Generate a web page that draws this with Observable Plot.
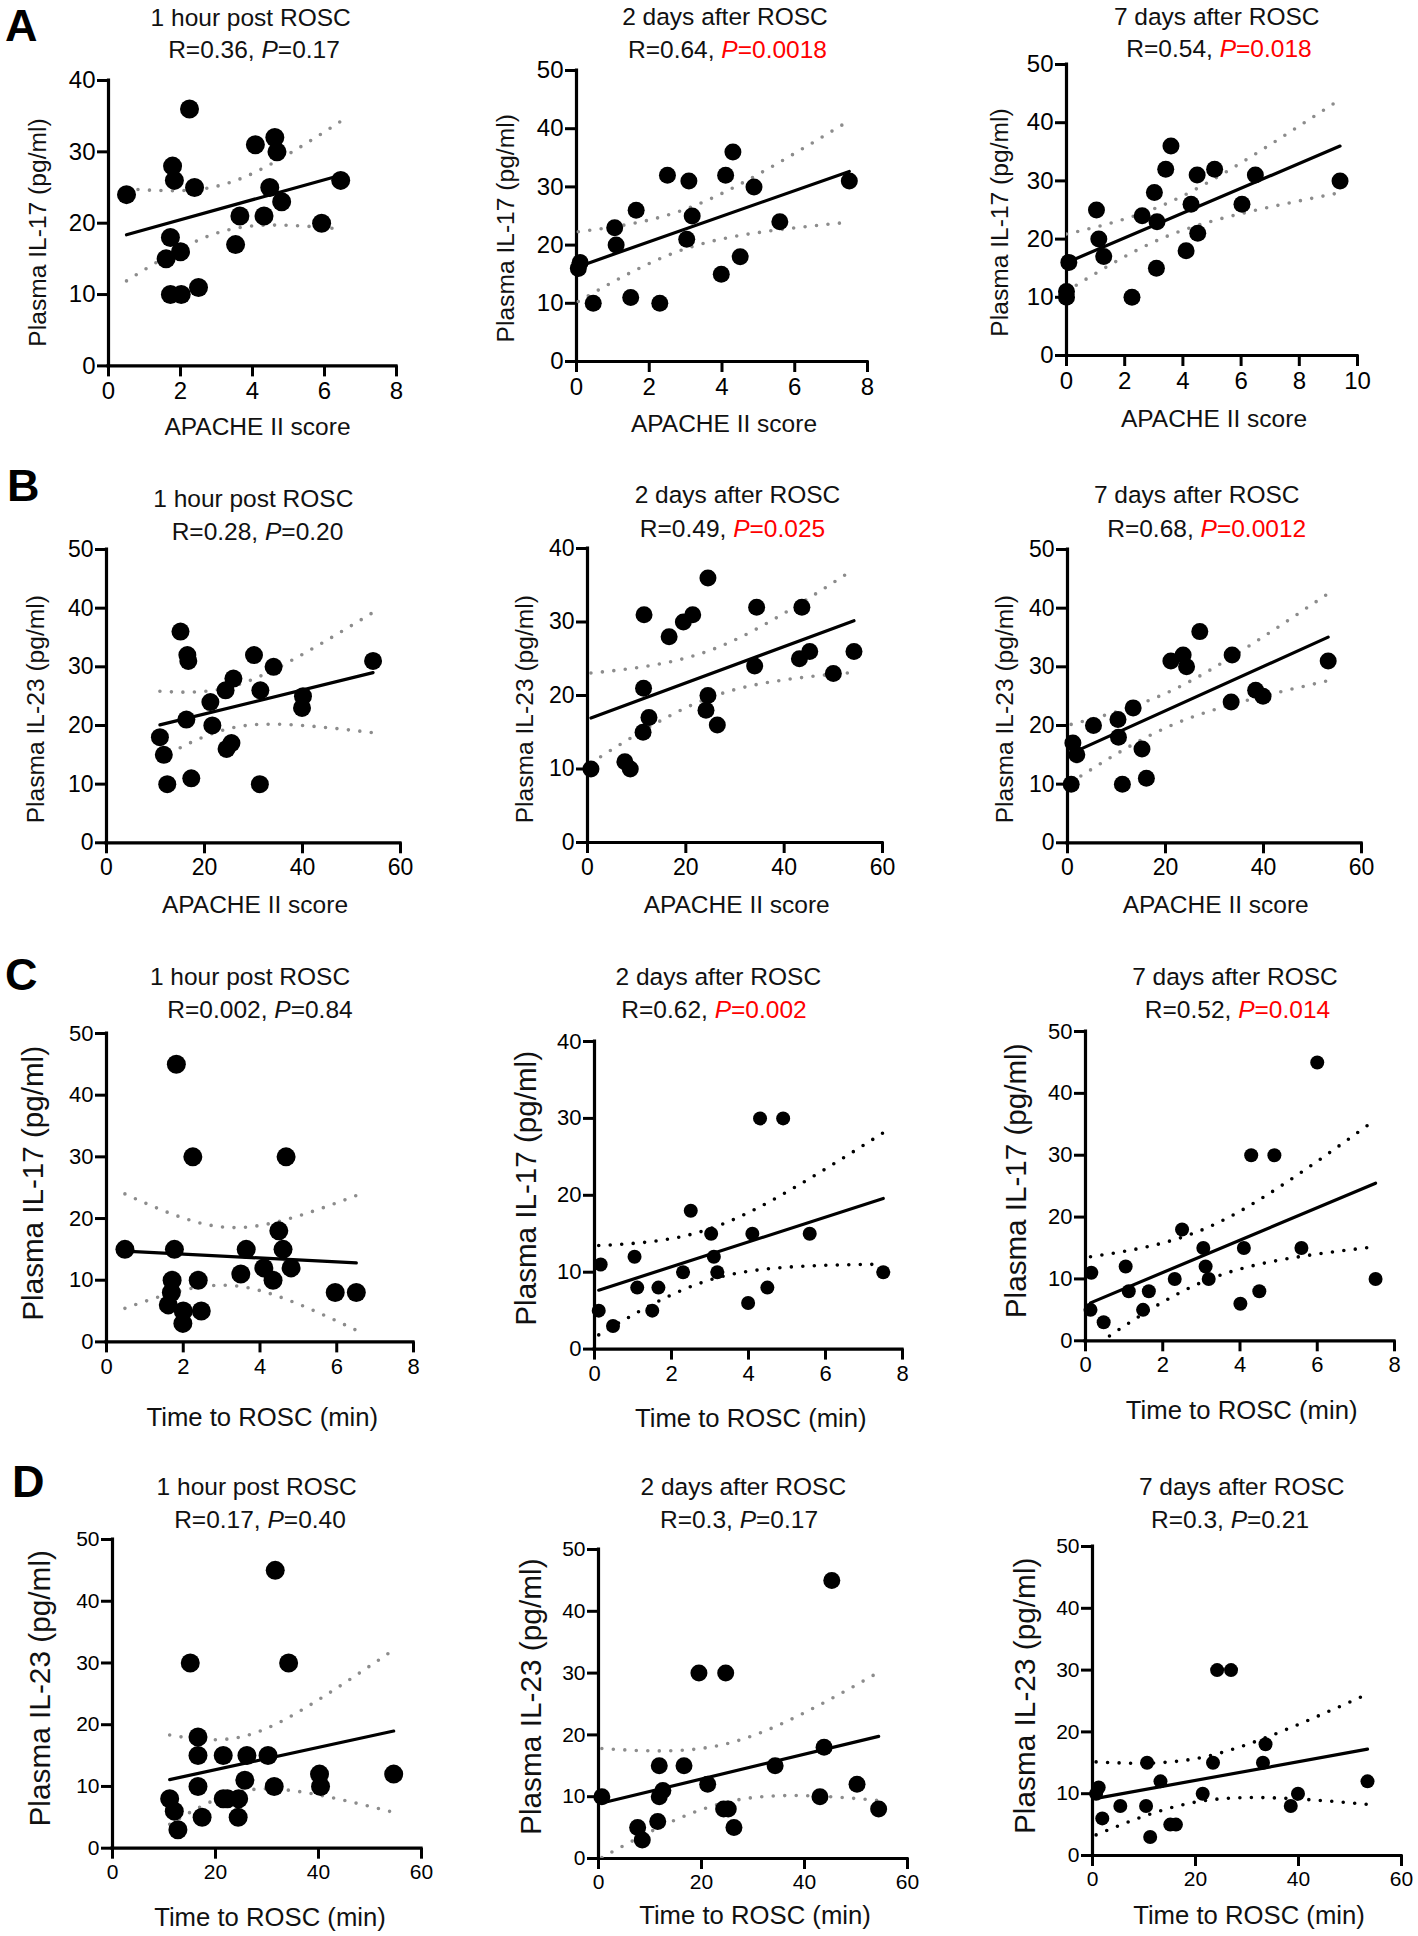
<!DOCTYPE html>
<html>
<head>
<meta charset="utf-8">
<script src="https://cdn.jsdelivr.net/npm/d3@7"></script>
<script src="https://cdn.jsdelivr.net/npm/@observablehq/plot@0.6"></script>
<style>
  body { margin: 0; background: #fff; }
  #page { position: relative; width: 1418px; height: 1936px; overflow: hidden; background: #fff;
          font-family: "Liberation Sans", Arial, Helvetica, sans-serif; }
</style>
</head>
<body>
<div id="page"></div>
<script>
// ---------------- DATA ----------------
// Row A: APACHE II score vs plasma IL-17
const A1_x = [0.5, 2.25, 1.78, 1.83, 2.39, 1.72, 1.6, 2.0, 1.72, 2.02, 2.5, 3.53, 3.65, 4.08, 4.62, 4.68, 4.48, 4.32, 4.81, 5.92, 6.45];
const A1_y = [24, 36, 28, 26, 25, 18, 15, 16, 10, 10, 11, 17, 21, 31, 32, 30, 25, 21, 23, 20, 26];
const A2_x = [0.1, 0.05, 0.46, 1.05, 1.09, 1.64, 1.49, 2.29, 2.5, 3.09, 3.18, 3.03, 4.1, 4.3, 3.98, 4.5, 4.88, 5.59, 7.5];
const A2_y = [17, 16, 10, 23, 20, 26, 11, 10, 32, 31, 25, 21, 32, 36, 15, 18, 30, 24, 31];
const A3_x = [0.08, 0, 0, 1.03, 1.11, 1.28, 2.25, 2.6, 3.02, 3.11, 3.09, 3.41, 3.59, 4.28, 4.49, 4.51, 4.11, 5.09, 6.03, 6.49, 9.4];
const A3_y = [16, 11, 10, 25, 20, 17, 10, 24, 28, 23, 15, 32, 36, 26, 31, 21, 18, 32, 26, 31, 30];
// Row B: APACHE II score vs plasma IL-23
const B1_x = [10.9, 11.7, 12.4, 15.1, 16.5, 16.7, 16.3, 17.3, 21.2, 21.6, 24.3, 25.9, 24.5, 25.5, 30.1, 31.4, 34.1, 31.3, 40.1, 39.9, 54.4];
const B1_y = [18, 15, 10, 36, 32, 31, 21, 11, 24, 20, 26, 28, 16, 17, 32, 26, 30, 10, 25, 23, 31];
const B2_x = [0.7, 7.6, 8.7, 11.5, 11.4, 11.3, 12.5, 16.6, 19.5, 21.4, 24.5, 24.5, 24.1, 26.4, 34.4, 34.0, 43.6, 43.1, 45.2, 50.0, 54.2];
const B2_y = [10, 11, 10, 31, 21, 15, 17, 28, 30, 31, 36, 20, 18, 16, 32, 24, 32, 25, 26, 23, 26];
const B3_x = [0.75, 1.1, 1.9, 5.3, 10.3, 10.4, 11.2, 13.4, 15.2, 16.1, 21.1, 23.6, 24.3, 27.0, 33.6, 33.4, 38.4, 39.9, 53.2];
const B3_y = [10, 17, 15, 20, 21, 18, 10, 23, 16, 11, 31, 32, 30, 36, 32, 24, 26, 25, 31];
// Row C: time to ROSC vs plasma IL-17
const C1_x = [0.48, 1.82, 1.77, 1.71, 1.69, 1.61, 2.0, 1.99, 2.25, 2.39, 2.47, 3.5, 3.64, 4.1, 4.34, 4.49, 4.6, 4.68, 4.81, 5.96, 6.51];
const C1_y = [15, 45, 15, 10, 8, 6, 5, 3, 30, 10, 5, 11, 15, 12, 10, 18, 15, 30, 12, 8, 8];
const C2_x = [0.16, 0.11, 0.48, 1.04, 1.11, 1.5, 1.66, 2.3, 2.5, 3.03, 3.1, 3.19, 4.1, 3.99, 4.3, 4.9, 4.49, 5.59, 7.5];
const C2_y = [11, 5, 3, 12, 8, 5, 8, 10, 18, 15, 12, 10, 15, 6, 30, 30, 8, 15, 10];
const C3_x = [0.15, 0.13, 0.47, 1.04, 1.12, 1.49, 1.64, 2.31, 2.5, 3.05, 3.11, 3.19, 4.1, 4.01, 4.29, 4.89, 4.5, 5.59, 6.0, 7.51];
const C3_y = [11, 5, 3, 12, 8, 5, 8, 10, 18, 15, 12, 10, 15, 6, 30, 30, 8, 15, 45, 10];
// Row D: time to ROSC vs plasma IL-23
const D1_x = [11.1, 12.0, 12.7, 15.1, 16.6, 16.6, 16.6, 17.4, 21.5, 21.5, 22.3, 24.5, 24.4, 25.7, 26.1, 30.2, 31.4, 31.6, 34.2, 40.2, 40.4, 54.6];
const D1_y = [8, 6, 3, 30, 18, 15, 10, 5, 15, 8, 8, 8, 5, 11, 15, 15, 10, 45, 30, 12, 10, 12];
const D2_x = [0.65, 7.6, 8.5, 11.8, 11.5, 11.8, 12.5, 16.6, 19.5, 24.7, 21.2, 24.3, 25.2, 26.3, 34.3, 43.8, 43.0, 45.3, 50.2, 54.4];
const D2_y = [10, 5, 3, 15, 6, 10, 11, 15, 30, 30, 12, 8, 8, 5, 15, 18, 10, 45, 12, 8];
const D3_x = [1.2, 0.7, 1.9, 5.4, 10.6, 10.4, 11.2, 13.2, 15.1, 16.2, 21.4, 23.4, 24.2, 26.9, 33.1, 33.6, 38.5, 39.9, 53.4];
const D3_y = [11, 10, 6, 8, 15, 8, 3, 12, 5, 5, 10, 15, 30, 30, 15, 18, 8, 10, 12];

// Tick values
const ticks0to8 = [0, 2, 4, 6, 8];
const ticks0to10 = [0, 2, 4, 6, 8, 10];
const ticks0to60 = [0, 20, 40, 60];
const ticks0to40 = [0, 10, 20, 30, 40];
const ticks0to50 = [0, 10, 20, 30, 40, 50];

// Text
const panelLetters = ["A", "B", "C", "D"];
const timepoints = ["1 hour post ROSC", "2 days after ROSC", "7 days after ROSC"];
const rLabels = ["R=0.36", "R=0.64", "R=0.54", "R=0.28", "R=0.49", "R=0.68", "R=0.002", "R=0.62", "R=0.52", "R=0.17", "R=0.3", "R=0.3"];
const pLabels = ["=0.17", "=0.0018", "=0.018", "=0.20", "=0.025", "=0.0012", "=0.84", "=0.002", "=0.014", "=0.40", "=0.17", "=0.21"];
const pSignificant = [false, true, true, false, true, true, false, true, true, false, false, false];
const xLabels = ["APACHE II score", "APACHE II score", "Time to ROSC (min)", "Time to ROSC (min)"];
const yLabels = ["Plasma IL-17 (pg/ml)", "Plasma IL-23 (pg/ml)", "Plasma IL-17 (pg/ml)", "Plasma IL-23 (pg/ml)"];

// ---------------- LAYOUT / STYLE ----------------
const FONT = '"Liberation Sans", Arial, Helvetica, sans-serif';
const GRAY = "#8c8c8c";
const panels = [
  {x: A1_x, y: A1_y, xd: [0, 8],  xt: ticks0to8,  yd: [0, 40], yt: ticks0to40, frame: [108, 396, 80.3, 365.7],  r: 9.5, tick: 24, ci: GRAY,  t: [250.7, 25.7, 254, 58.3],     xl: [257.5, 435, 24.5],   yl: [46, 232.5, 24.6]},
  {x: A2_x, y: A2_y, xd: [0, 8],  xt: ticks0to8,  yd: [0, 50], yt: ticks0to50, frame: [576, 867, 70, 361],      r: 8.5, tick: 24, ci: GRAY,  t: [725, 25, 727.5, 58.3],       xl: [724, 431.7, 24.5],   yl: [514.3, 228.3, 24.6]},
  {x: A3_x, y: A3_y, xd: [0, 10], xt: ticks0to10, yd: [0, 50], yt: ticks0to50, frame: [1066, 1357, 64.3, 355.3], r: 8.5, tick: 24, ci: GRAY,  t: [1216.7, 25, 1219, 56.7],     xl: [1214, 426.7, 24.5],  yl: [1007.6, 222.5, 24.6]},
  {x: B1_x, y: B1_y, xd: [0, 60], xt: ticks0to60, yd: [0, 50], yt: ticks0to50, frame: [106, 400, 549, 842.3],    r: 9,   tick: 23, ci: GRAY,  t: [253.3, 506.7, 257.5, 540],   xl: [255, 913.3, 24.5],   yl: [44.3, 709.2, 24.6]},
  {x: B2_x, y: B2_y, xd: [0, 60], xt: ticks0to60, yd: [0, 40], yt: ticks0to40, frame: [587, 882, 548.3, 842.3],  r: 8.5, tick: 23, ci: GRAY,  t: [737.5, 503.3, 732.5, 536.7], xl: [736.7, 913.3, 24.5], yl: [532.6, 709.2, 24.6]},
  {x: B3_x, y: B3_y, xd: [0, 60], xt: ticks0to60, yd: [0, 50], yt: ticks0to50, frame: [1067, 1361, 549, 842.3],  r: 8.5, tick: 23, ci: GRAY,  t: [1196.7, 503.3, 1206.7, 536.7], xl: [1215.7, 913.3, 24.5], yl: [1012.6, 709.2, 24.6]},
  {x: C1_x, y: C1_y, xd: [0, 8],  xt: ticks0to8,  yd: [0, 50], yt: ticks0to50, frame: [106, 413, 1033.3, 1341.7], r: 9.5, tick: 22, ci: GRAY, t: [250, 985, 260, 1018.3],      xl: [262.3, 1426, 25.7],  yl: [42.8, 1183.3, 29.6]},
  {x: C2_x, y: C2_y, xd: [0, 8],  xt: ticks0to8,  yd: [0, 40], yt: ticks0to40, frame: [594, 902, 1040.7, 1348.3], r: 7,  tick: 22, ci: "#000", t: [718.3, 985, 714, 1018.3],   xl: [750.8, 1427, 25.7],  yl: [536, 1188.3, 29.6]},
  {x: C3_x, y: C3_y, xd: [0, 8],  xt: ticks0to8,  yd: [0, 50], yt: ticks0to50, frame: [1085, 1394, 1030.7, 1340], r: 7,  tick: 22, ci: "#000", t: [1235, 985, 1237.5, 1018.3], xl: [1241.7, 1418.5, 25.7], yl: [1026, 1180.8, 29.6]},
  {x: D1_x, y: D1_y, xd: [0, 60], xt: ticks0to60, yd: [0, 50], yt: ticks0to50, frame: [112, 421, 1539, 1847.7],  r: 9.5, tick: 21, ci: GRAY,  t: [256.7, 1495, 260, 1528.3],   xl: [270, 1926, 25.7],    yl: [49.6, 1688.3, 29.8]},
  {x: D2_x, y: D2_y, xd: [0, 60], xt: ticks0to60, yd: [0, 50], yt: ticks0to50, frame: [598, 907, 1549.3, 1858.3], r: 8.5, tick: 21, ci: GRAY, t: [743.3, 1495, 739, 1528.3],   xl: [755, 1924, 25.7],    yl: [541.3, 1696.7, 29.8]},
  {x: D3_x, y: D3_y, xd: [0, 60], xt: ticks0to60, yd: [0, 50], yt: ticks0to50, frame: [1092, 1401, 1546, 1855],  r: 7,   tick: 21, ci: "#000", t: [1241.7, 1495, 1230, 1528.3], xl: [1249, 1924, 25.7],   yl: [1034.6, 1695.8, 29.8]}
];
const letterPos = [[5, 41], [7, 501], [5, 990], [12, 1497]];

// ---------------- statistics: least squares fit + 95% CI of the mean ----------------
function tQuantile975(df) {
  const z = 1.959964;
  return z + (z ** 3 + z) / (4 * df) + (5 * z ** 5 + 16 * z ** 3 + 3 * z) / (96 * df ** 2)
    + (3 * z ** 7 + 19 * z ** 5 + 17 * z ** 3 - 15 * z) / (384 * df ** 3);
}
function fit(xs, ys) {
  const n = xs.length, xbar = d3.mean(xs), ybar = d3.mean(ys);
  const Sxx = d3.sum(xs, v => (v - xbar) ** 2);
  const Sxy = d3.sum(xs.map((v, i) => (v - xbar) * (ys[i] - ybar)));
  const b = Sxy / Sxx, a = ybar - b * xbar;
  const s = Math.sqrt(d3.sum(xs.map((v, i) => (ys[i] - a - b * v) ** 2)) / (n - 2));
  const t = tQuantile975(n - 2);
  const [x0, x1] = d3.extent(xs);
  const grid = d3.range(61).map(i => x0 + (x1 - x0) * i / 60);
  const half = v => t * s * Math.sqrt(1 / n + (v - xbar) ** 2 / Sxx);
  return {
    line: [x0, x1].map(v => ({x: v, y: a + b * v})),
    upper: grid.map(v => ({x: v, y: a + b * v + half(v)})),
    lower: grid.map(v => ({x: v, y: a + b * v - half(v)}))
  };
}

// ---------------- render ----------------
const page = document.getElementById("page");
const ML = 62, MR = 14, MT = 20, MB = 44;

panels.forEach((p) => {
  const [L, R, T, B] = p.frame;
  const pts = p.x.map((v, i) => ({x: v, y: p.y[i]}));
  const f = fit(p.x, p.y);
  const dotted = {x: "x", y: "y", stroke: p.ci, strokeWidth: 3.6, strokeDasharray: "0 11.5", strokeLinecap: "round", clip: true};
  const svg = Plot.plot({
    width: R - L + ML + MR,
    height: B - T + MT + MB,
    marginLeft: ML, marginRight: MR, marginTop: MT, marginBottom: MB,
    style: {background: "transparent", color: "#000", fontFamily: FONT, fontSize: p.tick + "px", overflow: "visible", maxWidth: "none"},
    x: {domain: p.xd},
    y: {domain: p.yd},
    marks: [
      Plot.ruleY([0], {stroke: "#000", strokeWidth: 3.2, strokeLinecap: "square"}),
      Plot.ruleX([0], {stroke: "#000", strokeWidth: 3.2, strokeLinecap: "square"}),
      Plot.axisX(p.xt, {anchor: "bottom", tickSize: 11, tickPadding: 5, strokeWidth: 3, label: null}),
      Plot.axisY(p.yt, {anchor: "left", tickSize: 11, tickPadding: 2, strokeWidth: 3, label: null}),
      Plot.line(f.upper, dotted),
      Plot.line(f.lower, dotted),
      Plot.line(f.line, {x: "x", y: "y", stroke: "#000", strokeWidth: 3.2}),
      Plot.dot(pts, {x: "x", y: "y", r: p.r, fill: "#000", stroke: "none"})
    ]
  });
  svg.querySelectorAll("text").forEach(el => { el.style.fontSize = p.tick + "px"; });
  const wrap = document.createElement("div");
  wrap.style.cssText = `position:absolute;left:${L - ML}px;top:${T - MT}px;`;
  wrap.appendChild(svg);
  page.appendChild(wrap);
});

// Text overlay: panel letters, titles, axis labels
const overlay = d3.select(page).append("svg")
  .attr("width", 1418).attr("height", 1936)
  .style("position", "absolute").style("left", "0px").style("top", "0px")
  .style("pointer-events", "none")
  .attr("font-family", FONT);

panelLetters.forEach((l, i) => {
  overlay.append("text").attr("x", letterPos[i][0]).attr("y", letterPos[i][1])
    .attr("font-size", 45).attr("font-weight", "bold").attr("fill", "#000").text(l);
});

panels.forEach((p, i) => {
  const row = Math.floor(i / 3), col = i % 3;
  overlay.append("text").attr("x", p.t[0]).attr("y", p.t[1]).attr("text-anchor", "middle")
    .attr("font-size", 24.5).attr("fill", "#111").text(timepoints[col]);
  const line2 = overlay.append("text").attr("x", p.t[2]).attr("y", p.t[3]).attr("text-anchor", "middle")
    .attr("font-size", 24.5).attr("fill", "#111");
  line2.append("tspan").text(rLabels[i] + ", ");
  const pc = pSignificant[i] ? "#ff0000" : "#111";
  line2.append("tspan").attr("font-style", "italic").attr("fill", pc).text("P");
  line2.append("tspan").attr("fill", pc).text(pLabels[i]);

  overlay.append("text").attr("x", p.xl[0]).attr("y", p.xl[1]).attr("text-anchor", "middle")
    .attr("font-size", p.xl[2]).attr("fill", "#111").text(xLabels[row]);
  overlay.append("text").attr("transform", `translate(${p.yl[0]},${p.yl[1]}) rotate(-90)`)
    .attr("text-anchor", "middle").attr("font-size", p.yl[2]).attr("fill", "#111").text(yLabels[row]);
});
</script>
</body>
</html>
